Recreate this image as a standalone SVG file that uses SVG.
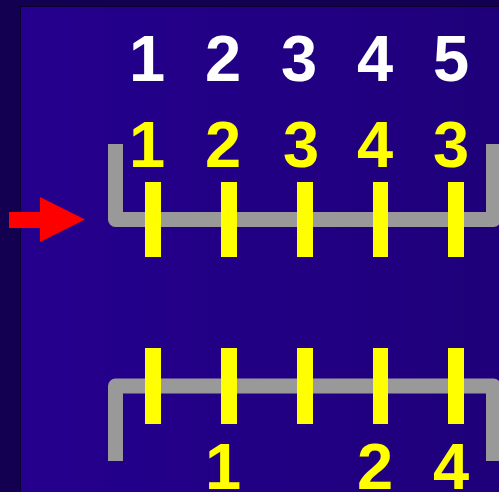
<svg xmlns="http://www.w3.org/2000/svg" width="499" height="492" viewBox="0 0 499 492">
<defs>
<linearGradient id="bg" x1="0" y1="0" x2="1" y2="0">
<stop offset="0" stop-color="#25008e"/>
<stop offset="1" stop-color="#1f007a"/>
</linearGradient>
<style>
.num{font-family:"Liberation Sans",Arial,sans-serif;font-weight:bold;font-size:65px;text-anchor:middle}
.w{fill:#ffffff}
.y{fill:#ffff00}
.bar{fill:#ffff00}
.br{fill:none;stroke:#999999;stroke-width:15;stroke-linejoin:round}
</style>
</defs>
<rect x="0" y="0" width="499" height="492" fill="#140050"/>
<rect x="20.5" y="6.5" width="480" height="490" fill="url(#bg)" stroke="#0a0030" stroke-width="1"/>
<g id="header">
<text class="num w" x="147" y="81">1</text>
<text class="num w" x="223" y="81">2</text>
<text class="num w" x="299" y="81">3</text>
<text class="num w" x="375" y="81">4</text>
<text class="num w" x="451" y="81">5</text>
</g>
<g id="top-labels">
<text class="num y" x="147" y="167">1</text>
<text class="num y" x="223" y="167">2</text>
<text class="num y" x="301" y="167">3</text>
<text class="num y" x="375" y="167">4</text>
<text class="num y" x="451" y="167">3</text>
</g>
<g id="connectors">
<path class="br" d="M115.5,144 V219.5 H493.5 V144"/>
<path class="br" d="M115.5,461 V386 H493.5 V461"/>
<polygon fill="#ff0000" points="9,212 40,212 40,197 85,219.5 40,242 40,228 9,228"/>
</g>
<g id="top-bars">
<rect class="bar" x="145" y="182" width="16" height="75"/>
<rect class="bar" x="221" y="182" width="16" height="75"/>
<rect class="bar" x="297" y="182" width="16" height="75"/>
<rect class="bar" x="373" y="182" width="15" height="75"/>
<rect class="bar" x="448" y="182" width="16" height="75"/>
</g>
<g id="bottom-bars">
<rect class="bar" x="145" y="348" width="16" height="76"/>
<rect class="bar" x="221" y="348" width="16" height="76"/>
<rect class="bar" x="297" y="348" width="16" height="76"/>
<rect class="bar" x="373" y="348" width="15" height="76"/>
<rect class="bar" x="448" y="348" width="16" height="76"/>
</g>
<g id="bottom-labels">
<text class="num y" x="223" y="489">1</text>
<text class="num y" x="375" y="489">2</text>
<text class="num y" x="451" y="489">4</text>
</g>
</svg>
